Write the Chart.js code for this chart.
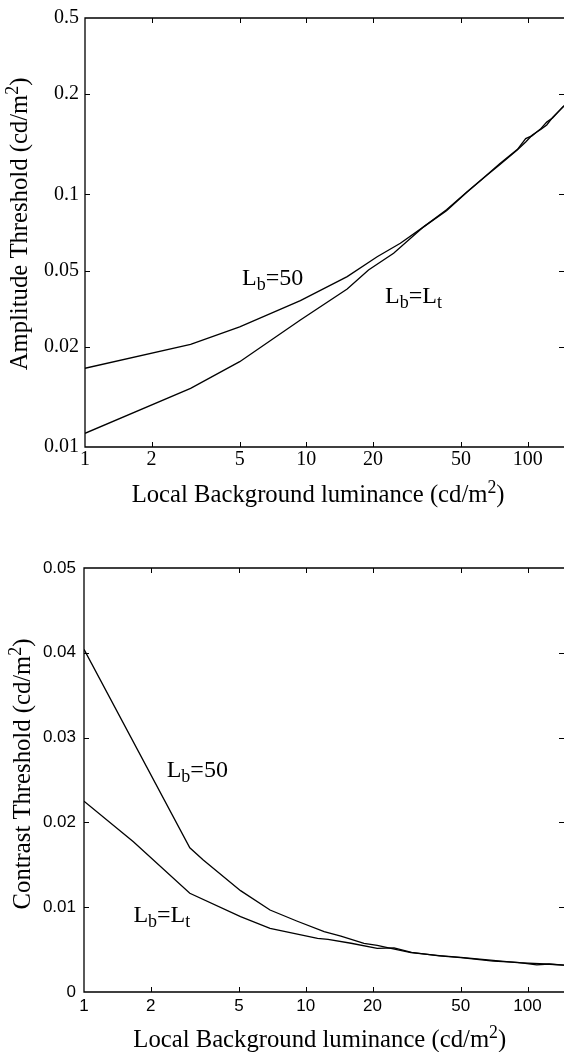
<!DOCTYPE html>
<html><head><meta charset="utf-8">
<script src="https://cdn.jsdelivr.net/npm/chart.js@4.4.1/dist/chart.umd.min.js"></script>
<style>
html,body{margin:0;padding:0;background:#fff;width:564px;height:1052px;overflow:hidden}
.box{position:absolute;left:0;width:564px}
</style></head>
<body>
<div class="box" style="top:0;height:530px"><canvas id="c1" width="564" height="530"></canvas></div>
<div class="box" style="top:530px;height:522px"><canvas id="c2" width="564" height="522"></canvas></div>
<script>
// ---------- data ----------
const xTickValues = [1, 2, 5, 10, 20, 50, 100];
const xTickLabels = ['1', '2', '5', '10', '20', '50', '100'];
const topYTickValues = [0.01, 0.025, 0.05, 0.1, 0.25, 0.5];
const topYTickLabels = ['0.01', '0.02', '0.05', '0.1', '0.2', '0.5'];
const botYTickValues = [0, 0.01, 0.02, 0.03, 0.04, 0.05];
const botYTickLabels = ['0', '0.01', '0.02', '0.03', '0.04', '0.05'];

const topLb50X = [1, 3, 5, 9.4, 15.3, 20.9, 26.6, 34, 43, 53.3, 65, 75, 90, 98, 105, 115, 122, 130, 146];
const topLb50Y = [0.0205, 0.0255, 0.0299, 0.038, 0.0473, 0.0567, 0.0641, 0.0746, 0.087, 0.1026, 0.119, 0.1326, 0.151, 0.1665, 0.171, 0.1827, 0.1935, 0.2015, 0.225];
const topLtX = [1, 3, 5, 9.4, 15.3, 19.1, 24.8, 34, 43, 53.3, 65, 75, 90, 98, 105, 115, 122, 130, 146];
const topLtY = [0.01133, 0.01708, 0.02177, 0.03184, 0.0422, 0.0502, 0.0585, 0.0746, 0.0862, 0.1022, 0.1185, 0.1315, 0.1505, 0.1615, 0.172, 0.1815, 0.1885, 0.2025, 0.224];

const botLb50X = [1, 3, 3.45, 5.08, 6.9, 9.1, 12.1, 14.4, 18.3, 21, 24.2, 29.8, 40, 50, 70, 90, 120, 146];
const botLb50Y = [0.0404, 0.017, 0.01557, 0.01195, 0.00967, 0.00837, 0.00711, 0.0066, 0.00574, 0.0055, 0.00515, 0.00464, 0.0043, 0.00409, 0.00372, 0.00346, 0.0033, 0.00318];
const botLtX = [1, 1.67, 3, 5.08, 6.9, 11.3, 12.6, 16, 21, 25, 30, 40, 50, 70, 90, 110, 125, 146];
const botLtY = [0.0225, 0.01773, 0.01164, 0.00888, 0.00751, 0.00633, 0.00621, 0.00575, 0.00515, 0.0052, 0.00468, 0.00425, 0.00405, 0.00365, 0.0035, 0.0032, 0.0033, 0.00318];

// ---------- helpers ----------
const SERIF = '"Liberation Serif","DejaVu Serif","Times New Roman",serif';
const SANS = '"Liberation Sans",Arial,Helvetica,sans-serif';
const pairs = (xs, ys) => xs.map((x, i) => ({x, y: ys[i]}));

function runsWidth(ctx, runs, size) {
  let w = 0;
  for (const r of runs) { ctx.font = (size * r.s) + 'px ' + SERIF; w += ctx.measureText(r.t).width; }
  return w;
}
function drawRuns(ctx, runs, x, y, size) {
  let cx = x;
  ctx.textBaseline = 'alphabetic';
  ctx.textAlign = 'left';
  for (const r of runs) {
    ctx.font = (size * r.s) + 'px ' + SERIF;
    ctx.fillText(r.t, cx, y + r.dy * size);
    cx += ctx.measureText(r.t).width;
  }
}
const T = (t) => ({t, s: 1, dy: 0});
const SUB = (t) => ({t, s: 0.75, dy: 0.2});
const SUP = (t) => ({t, s: 0.72, dy: -0.36});
const unitRuns = (head) => [T(head + ' (cd/m'), SUP('2'), T(')')];
const lb50 = [T('L'), SUB('b'), T('=50')];
const lbLt = [T('L'), SUB('b'), T('=L'), SUB('t')];

const decor = {
  id: 'decor',
  afterDraw(chart, args, o) {
    const ctx = chart.ctx, a = chart.chartArea;
    const xs = chart.scales.x, ys = chart.scales.y;
    ctx.save();
    ctx.strokeStyle = '#000';
    ctx.fillStyle = '#000';
    // frame (top, left, bottom)
    ctx.lineWidth = 1.3;
    ctx.beginPath();
    ctx.moveTo(a.right + 2, a.top); ctx.lineTo(a.left, a.top);
    ctx.lineTo(a.left, a.bottom); ctx.lineTo(a.right + 2, a.bottom);
    ctx.stroke();
    // inward ticks
    ctx.lineWidth = 1;
    ctx.beginPath();
    xs.ticks.forEach(t => {
      const p = Math.round(xs.getPixelForValue(t.value)) + 0.5;
      if (p <= a.left + 2) return;
      ctx.moveTo(p, a.bottom); ctx.lineTo(p, a.bottom - 5);
      ctx.moveTo(p, a.top); ctx.lineTo(p, a.top + 5);
    });
    ys.ticks.forEach(t => {
      const p = Math.round(ys.getPixelForValue(t.value)) + 0.5;
      if (p <= a.top + 2 || p >= a.bottom - 2) return;
      ctx.moveTo(a.left, p); ctx.lineTo(a.left + 5, p);
      ctx.moveTo(a.right, p); ctx.lineTo(a.right - 5, p);
    });
    ctx.stroke();
    // curve labels
    o.labels.forEach(l => {
      drawRuns(ctx, l.runs, xs.getPixelForValue(l.x), ys.getPixelForValue(l.y), o.labelSize);
    });
    // x title
    drawRuns(ctx, o.xTitle.runs, o.xTitle.left, o.xTitle.baseline, o.titleSize);
    // y title (rotated)
    const w = runsWidth(ctx, o.yTitle.runs, o.titleSize);
    ctx.save();
    ctx.translate(o.yTitle.baselineX, o.yTitle.centerY);
    ctx.rotate(-Math.PI / 2);
    drawRuns(ctx, o.yTitle.runs, -w / 2, 0, o.titleSize);
    ctx.restore();
    ctx.restore();
  }
};

function makeChart(id, cfg) {
  const lineDs = (data) => ({data, borderColor: '#000', borderWidth: 1.3, pointRadius: 0, tension: 0, fill: false});
  return new Chart(document.getElementById(id), {
    type: 'line',
    data: {datasets: cfg.series.map(lineDs)},
    plugins: [decor],
    options: {
      responsive: false, animation: false, devicePixelRatio: 1,
      layout: {padding: {top: cfg.padTop, left: 0, right: 0, bottom: 0}},
      plugins: {legend: {display: false}, tooltip: {enabled: false}, decor: cfg.decor},
      scales: {
        x: {
          type: 'logarithmic', min: 1, max: 146,
          afterFit: s => { s.height = cfg.xAxisHeight; },
          afterBuildTicks: s => { s.ticks = xTickValues.map(v => ({value: v})); },
          grid: {display: false, drawTicks: false},
          border: {display: false},
          ticks: {autoSkip: false, maxRotation: 0, color: '#000', padding: cfg.xPad,
            font: cfg.tickFont, callback: (v, i) => xTickLabels[i]}
        },
        y: {
          type: cfg.yType, min: cfg.yMin, max: cfg.yMax,
          afterFit: s => { s.width = cfg.yAxisWidth; },
          afterBuildTicks: s => { s.ticks = cfg.yTickValues.map(v => ({value: v})); },
          grid: {display: false, drawTicks: false},
          border: {display: false},
          ticks: {autoSkip: false, color: '#000', padding: cfg.yPad,
            font: cfg.tickFont, callback: (v, i) => cfg.yTickLabels[i]}
        }
      }
    }
  });
}

makeChart('c1', {
  series: [pairs(topLb50X, topLb50Y), pairs(topLtX, topLtY)],
  padTop: 18, xAxisHeight: 83, yAxisWidth: 85, xPad: 1, yPad: 6,
  yType: 'logarithmic', yMin: 0.01, yMax: 0.5,
  yTickValues: topYTickValues, yTickLabels: topYTickLabels,
  tickFont: {family: SERIF, size: 20},
  decor: {
    labelSize: 24, titleSize: 24.7,
    labels: [{runs: lb50, x: 5.12, y: 0.0439}, {runs: lbLt, x: 22.7, y: 0.0372}],
    xTitle: {runs: unitRuns('Local Background luminance'), left: 131.7, baseline: 501.7},
    yTitle: {runs: unitRuns('Amplitude Threshold'), baselineX: 27, centerY: 224}
  }
});

makeChart('c2', {
  series: [pairs(botLb50X, botLb50Y), pairs(botLtX, botLtY)],
  padTop: 38, xAxisHeight: 60, yAxisWidth: 84, xPad: 4, yPad: 8,
  yType: 'linear', yMin: 0, yMax: 0.05,
  yTickValues: botYTickValues, yTickLabels: botYTickLabels,
  tickFont: {family: SANS, size: 17},
  decor: {
    labelSize: 24, titleSize: 24.7,
    labels: [{runs: lb50, x: 2.36, y: 0.02535}, {runs: lbLt, x: 1.67, y: 0.00829}],
    xTitle: {runs: unitRuns('Local Background luminance'), left: 133.3, baseline: 516.7},
    yTitle: {runs: unitRuns('Contrast Threshold'), baselineX: 30, centerY: 244}
  }
});
</script>
</body></html>
